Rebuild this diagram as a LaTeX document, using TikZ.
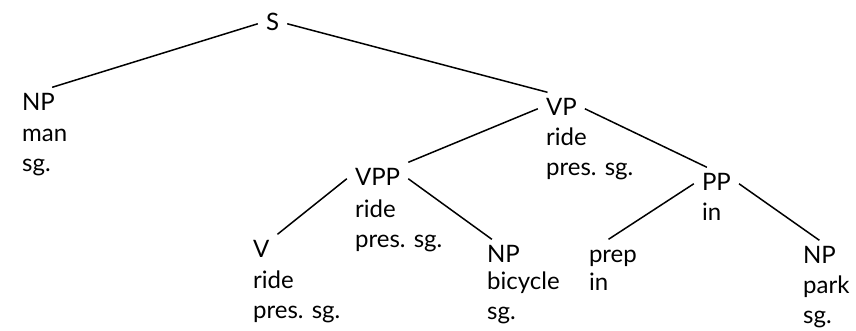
\documentclass[tikz,border=0pt]{standalone}
\usepackage{fontspec}
\setmainfont{Lato}
\usepackage{tikz}

\begin{document}
\begin{tikzpicture}[x=1pt,y=-1pt,
  font=\fontsize{24}{30}\selectfont,
  cat/.style={anchor=text,inner xsep=8pt,inner ysep=6pt,
    text height=16.5pt,text depth=4pt},
  feat/.style={anchor=base west,inner sep=0pt,align=left},
  branch/.style={line width=1.5pt}]
\path[use as bounding box] (0,0) rectangle (856,330);
% categories
\node[cat] (s) at (266,30) {S};
\node[cat] (np1) at (22,110) {NP};
\node[cat] (vp) at (546,115) {VP};
\node[cat] (vpp) at (355,185) {VPP};
\node[cat] (pp) at (702,190) {PP};
\node[cat] (v) at (253,257) {V};
\node[cat] (np2) at (487,262) {NP};
\node[cat] (prep) at (589,262) {prep};
\node[cat] (np3) at (803,263) {NP};
% features (placed at the last line)
\node[feat] (np1f) at (22,171) {man\\sg.};
\node[feat] (vpf) at (546,175) {ride\\pres. sg.};
\node[feat] (vppf) at (355,247) {ride\\pres. sg.};
\node[feat] (ppf) at (702,220) {in};
\node[feat] (vf) at (253,318) {ride\\pres. sg.};
\node[feat] (np2f) at (487,319) {bicycle\\sg.};
\node[feat] (prepf) at (589,290) {in};
\node[feat] (np3f) at (803,323) {park\\sg.};
% branches
\draw[branch] (s.west) -- (np1.50);
\draw[branch] (s.east) -- (vp.130);
\draw[branch] (vp.west) -- (vpp.north east);
\draw[branch] (vp.east) -- (pp.120);
\draw[branch] (vpp.west) -- (v.north east);
\draw[branch] (vpp.east) -- (np2.125);
\draw[branch] (pp.west) -- (prep.105);
\draw[branch] (pp.east) -- (np3.north);
\end{tikzpicture}
\end{document}
